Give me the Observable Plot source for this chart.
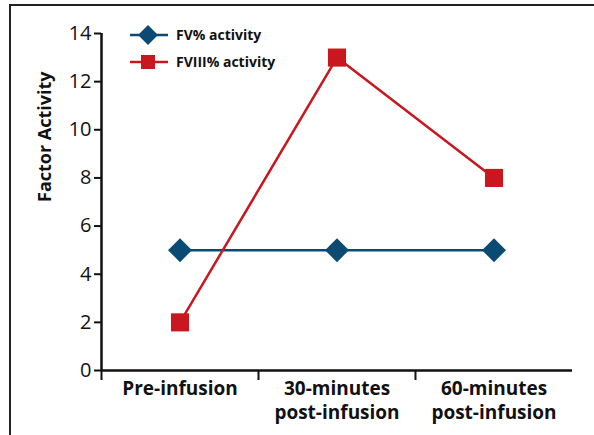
<!DOCTYPE html>
<html>
<head>
<meta charset="utf-8">
<script src="https://cdn.jsdelivr.net/npm/d3@7"></script>
<script src="https://cdn.jsdelivr.net/npm/@observablehq/plot@0.6"></script>
<style>
  html, body { margin: 0; padding: 0; background: #fff; }
  #wrap { position: relative; width: 594px; height: 435px; overflow: hidden; font-family: "Open Sans", sans-serif; }
  #frame { position: absolute; left: 9px; top: 4px; width: 700px; height: 700px; border-left: 2px solid #222; border-top: 2px solid #222; box-sizing: border-box; }
  #legend { position: absolute; left: 130px; top: 21px; font-weight: bold; font-size: 14px; color: #111; }
  .item { display: flex; align-items: center; height: 27px; }
  .item svg { margin-right: 8px; }
</style>
</head>
<body>
<div id="wrap">
  <div id="frame"></div>
  <div id="chart"></div>
  <div id="legend"></div>
</div>
<script>
const categories = ["Pre-infusion", "30-minutes\npost-infusion", "60-minutes\npost-infusion"];
const fv = [5, 5, 5];
const fviii = [2, 13, 8];
const yTicks = [0, 2, 4, 6, 8, 10, 12, 14];
const seriesNames = ["FV% activity", "FVIII% activity"];
const colors = ["#0b4a73", "#c8171f"];

const idx = categories.map((_, i) => i);
const fvData = idx.map(i => ({x: i, y: fv[i]}));
const fviiiData = idx.map(i => ({x: i, y: fviii[i]}));
const xDomain = [-0.5, categories.length - 0.5];
const bounds = idx.map(i => i - 0.5);

const chart = Plot.plot({
  width: 594,
  height: 435,
  marginLeft: 101,
  marginRight: 22,
  marginTop: 33,
  marginBottom: 65,
  style: {fontFamily: "Open Sans, sans-serif", background: "transparent", overflow: "visible"},
  x: {type: "linear", domain: xDomain},
  y: {domain: [0, 14]},
  marks: [
    Plot.axisY({ticks: yTicks, tickSize: 7, tickPadding: 3, fontSize: 20, label: null, stroke: "#111", strokeWidth: 2, color: "#111"}),
    Plot.axisX({ticks: bounds, tickSize: 10, tickFormat: () => "", label: null, stroke: "#111", strokeWidth: 2}),
    Plot.axisX({ticks: idx, tickSize: 0, tickPadding: 8, tickFormat: i => categories[i], fontSize: 19, fontWeight: "bold", lineHeight: 1.25, label: null, fill: "#111", textAnchor: "middle"}),
    Plot.ruleY([0], {stroke: "#111", strokeWidth: 2.5}),
    Plot.ruleX([xDomain[0]], {stroke: "#111", strokeWidth: 2.5}),
    Plot.text(["Factor Activity"], {frameAnchor: "left", rotate: -90, dx: -56, fontSize: 18, fontWeight: "bold", fill: "#111"}),
    Plot.line(fvData, {x: "x", y: "y", stroke: colors[0], strokeWidth: 2.5}),
    Plot.line(fviiiData, {x: "x", y: "y", stroke: colors[1], strokeWidth: 2.5}),
    Plot.dot(fvData, {x: "x", y: "y", symbol: "diamond2", r: 10.8, fill: colors[0], stroke: "none"}),
    Plot.dot(fviiiData, {x: "x", y: "y", symbol: "square", r: 10.2, fill: colors[1], stroke: "none"})
  ]
});
document.getElementById("chart").appendChild(chart);

const legend = document.getElementById("legend");
seriesNames.forEach((name, k) => {
  const item = document.createElement("div");
  item.className = "item";
  const sym = k === 0
    ? `<path d="M18 2 L28 12 L18 22 L8 12 Z" fill="${colors[0]}"/>`
    : `<rect x="11" y="5" width="14" height="14" fill="${colors[1]}"/>`;
  item.innerHTML = `<svg width="38" height="24"><line x1="0" x2="38" y1="12" y2="12" stroke="${colors[k]}" stroke-width="2.5"/>${sym}</svg><span>${name}</span>`;
  legend.appendChild(item);
});
</script>
</body>
</html>
